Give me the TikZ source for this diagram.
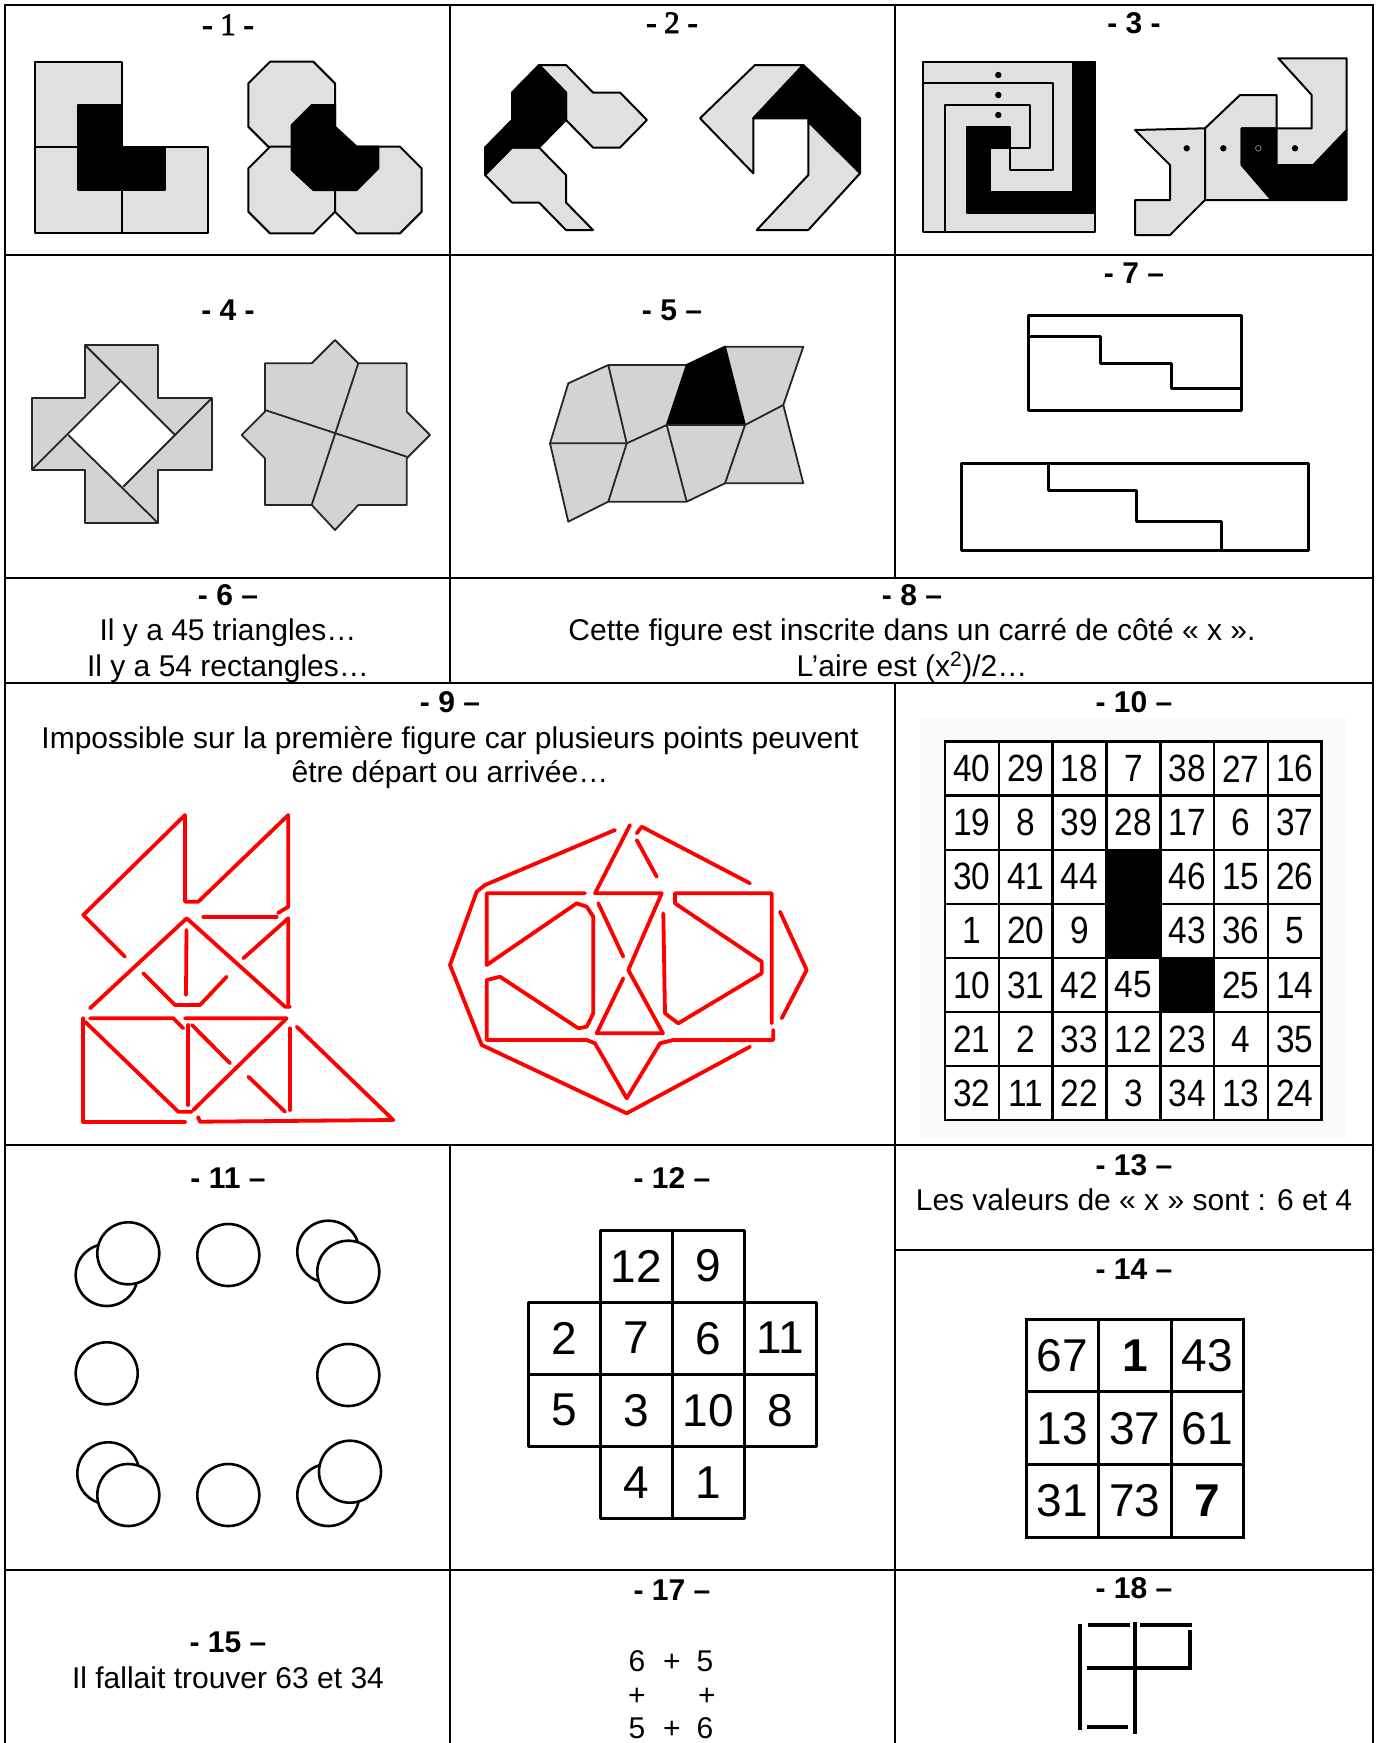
\documentclass[tikz,border=0pt]{standalone}
\usepackage{fontspec}
\setmainfont{Liberation Sans}
\newfontfamily\timesb{Liberation Serif}[FakeBold=2.5]
\definecolor{lg}{HTML}{E0E0E0}
\definecolor{mg}{HTML}{D3D3D3}
\definecolor{rd}{HTML}{FF0000}
\tikzset{
  tbl/.style={line width=2.6pt, line cap=rect},
  ttl/.style={font=\fontsize{30}{34}\selectfont\bfseries, anchor=base, inner sep=0pt},
  ttls/.style={font=\timesb\fontsize{31}{34}\selectfont, anchor=base, inner sep=0pt},
  body/.style={font=\fontsize{30}{34}\selectfont, anchor=base, inner sep=0pt},
  piece/.style={draw=black, line width=2pt, fill=lg, line join=round},
  piecem/.style={draw=black!85, line width=1.8pt, fill=mg, line join=round},
  blk/.style={draw=black, line width=2pt, fill=black, line join=round},
  pl/.style={draw=black, line width=2pt, line join=round},
  plm/.style={draw=black!85, line width=1.8pt, line join=round},
  rl/.style={draw=rd, line width=3.8pt, line join=round, line cap=round},
  bl/.style={draw=black, line width=3pt, line join=round},
  n10/.style={font=\fontsize{38}{38}\selectfont, inner sep=0pt, anchor=center},
  n12/.style={font=\fontsize{46}{46}\selectfont, inner sep=0pt, anchor=center},
  circ/.style={draw=black, line width=2.6pt, fill=white},
}
\begin{document}
\begin{tikzpicture}[x=1pt,y=-1pt]
\useasboundingbox (0,0) rectangle (1377,1743);
\fill[white] (0,0) rectangle (1377,1743);

% ---------------- Figure 1
\draw[piece] (35,61.7) -- (121.7,61.7) -- (121.7,146.7) -- (208.3,146.7) -- (208.3,233.3) -- (35,233.3) -- cycle;
\draw[pl] (35,146.7) -- (121.7,146.7) -- (121.7,233.3);
\draw[blk] (78.3,105) -- (121.7,105) -- (121.7,146.7) -- (165,146.7) -- (165,190) -- (78.3,190) -- cycle;
\foreach \a/\b in {248.3/61.7, 248.3/146.7, 335/146.7}{
  \draw[piece,shift={(\a,\b)}] (21.7,0) -- (65,0) -- (86.7,21.7) -- (86.7,65) -- (65,86.7) -- (21.7,86.7) -- (0,65) -- (0,21.7) -- cycle;
}
\draw[blk] (291.7,125) -- (311.7,105) -- (335,105) -- (335,126.7) -- (356.7,146.7) -- (378.3,146.7) -- (378.3,168.3) -- (356.7,190) -- (313.3,190) -- (291.7,170) -- cycle;

% ---------------- Figure 2
\begin{scope}[shift={(485,65)}, x=27pt, y=-27.5pt]
\draw[piece] (2,0) -- (3,0) -- (4,1) -- (5,1) -- (6,2) -- (5,3) -- (4,3) -- (3,2) -- (3,1) -- cycle;
\draw[piece] (1,3) -- (2,3) -- (3,4) -- (3,5) -- (4,6) -- (3,6) -- (2,5) -- (1,5) -- (0,4) -- cycle;
\draw[blk] (2,0) -- (3,1) -- (3,2) -- (2,3) -- (1,3) -- (0,4) -- (0,3) -- (1,2) -- (1,1) -- cycle;
\end{scope}
\draw[piece] (700,118.3) -- (755,65) -- (803.3,65) -- (753.3,118.3) -- (753.3,173.3) -- cycle;
\draw[blk] (753.3,118.3) -- (803.3,65) -- (860,118.3) -- (860,173.3) -- (808.3,121.7) -- (808.3,118.3) -- cycle;
\draw[piece] (808.3,121.7) -- (860,173.3) -- (808.3,230) -- (756.7,230) -- (808.3,175) -- cycle;

% ---------------- Figure 3
\draw[piece] (923.3,61.7) rectangle (1095,231.7);
\draw[blk] (966.7,126.7) -- (1010,126.7) -- (1010,148.3) -- (990,148.3) -- (990,191.7) -- (1073.3,191.7) -- (1073.3,61.7) -- (1095,61.7) -- (1095,213.3) -- (966.7,213.3) -- cycle;
\draw[pl] (923.3,83.3) -- (1053.3,83.3) -- (1053.3,170) -- (1010,170) -- (1010,148.3);
\draw[pl] (945,231.7) -- (945,105) -- (1030,105) -- (1030,148.3) -- (1010,148.3);
\foreach \yy in {75,95,115} \fill (998.3,\yy) circle[radius=3.2];
\draw[piece] (1135,130) -- (1205,128.3) -- (1205,200) -- (1170,235) -- (1135,235) -- (1135,200) -- (1170,200) -- (1170,165) -- cycle;
\draw[piece] (1205,128.3) -- (1240,95) -- (1276.7,95) -- (1276.7,128.3) -- (1241.7,128.3) -- (1241.7,165) -- (1271.7,200) -- (1205,200) -- cycle;
\draw[blk] (1241.7,128.3) -- (1276.7,128.3) -- (1276.7,165) -- (1313.3,165) -- (1346.7,130) -- (1346.7,200) -- (1271.7,200) -- (1241.7,165) -- cycle;
\draw[piece] (1278.3,58.3) -- (1346.7,58.3) -- (1346.7,130) -- (1313.3,165) -- (1276.7,165) -- (1276.7,128.3) -- (1311.7,128.3) -- (1311.7,95) -- cycle;
\foreach \xx in {1186.7,1223.3,1295} \fill (\xx,148.3) circle[radius=3.2];
\draw[gray, line width=0.8pt] (1258.3,148.3) circle[radius=2.8];

% ---------------- Figure 4
\draw[piecem] (85,345) -- (158.3,345) -- (158.3,398.3) -- (211.7,398.3) -- (211.7,470) -- (158.3,470) -- (158.3,523.3) -- (85,523.3) -- (85,470) -- (31.7,470) -- (31.7,398.3) -- (85,398.3) -- cycle;
\fill[white] (120,381.7) -- (175,435) -- (123.3,486.7) -- (68.3,435) -- cycle;
\draw[plm] (85,345) -- (175,435);
\draw[plm] (211.7,398.3) -- (123.3,486.7);
\draw[plm] (158.3,523.3) -- (68.3,435);
\draw[plm] (31.7,470) -- (120,381.7);
\draw[piecem] (335,340) -- (358.3,363.3) -- (406.7,363.3) -- (406.7,411.7) -- (430,435) -- (406.7,458.3) -- (406.7,505) -- (358.3,505) -- (335,530) -- (311.7,505) -- (265,505) -- (265,458.3) -- (241.7,435) -- (265,411.7) -- (265,363.3) -- (311.7,363.3) -- cycle;
\draw[plm] (358.3,363.3) -- (311.7,505);
\draw[plm] (265,410) -- (406.7,456.7);

% ---------------- Figure 5
\draw[piecem] (550,443.3) -- (568.3,383.3) -- (608.3,365) -- (686.7,365) -- (725,346.7) -- (803.3,346.7) -- (783.3,405) -- (803.3,483.3) -- (725,483.3) -- (686.7,501.7) -- (608.3,501.7) -- (568.3,521.7) -- cycle;
\draw[blk, line width=1.8pt] (686.7,365) -- (725,346.7) -- (745,425) -- (666.7,425) -- cycle;
\draw[plm] (550,443.3) -- (626.7,443.3) -- (666.7,425) -- (745,425) -- (783.3,405);
\draw[plm] (608.3,365) -- (626.7,443.3) -- (608.3,501.7);
\draw[plm] (666.7,425) -- (686.7,501.7);
\draw[plm] (745,425) -- (725,483.3);

% ---------------- Figure 7
\draw[bl] (1028.3,315) rectangle (1241.7,410);
\draw[bl] (1028.3,336.7) -- (1100,336.7) -- (1100,363.3) -- (1171.7,363.3) -- (1171.7,388.3) -- (1241.7,388.3);
\draw[bl] (961.7,463.3) rectangle (1308.3,550);
\draw[bl] (1048.3,463.3) -- (1048.3,490) -- (1136.7,490) -- (1136.7,521.7) -- (1221.7,521.7) -- (1221.7,550);

% ---------------- Figure 9 (left)
\draw[rl] (125,956.7) -- (83.3,915) -- (185,815) -- (185,901.7) -- (198.3,901.7) -- (288.3,815) -- (288.3,906.7) -- (278,913);
\draw[rl] (203.3,916.7) -- (276.7,916.7);
\draw[rl] (90,1008.3) -- (186.7,918.3) -- (285,1006.7) -- (290,1006.7);
\draw[rl] (243.3,958.3) -- (288.3,918.3) -- (288.3,1006.7);
\draw[rl] (186.5,930) -- (186,995);
\draw[rl] (143.3,973.3) -- (175,1005) -- (200,1005) -- (226.7,976.7);
\draw[rl] (90,1018.3) -- (173.3,1018.3) -- (183.3,1028.3);
\draw[rl] (185,1018.3) -- (286.7,1018.3) -- (193.3,1110);
\draw[rl] (83.3,1018.3) -- (83.3,1121.7) -- (185,1121.7);
\draw[rl] (85,1021.7) -- (178.3,1111.7) -- (191.7,1111.7);
\draw[rl] (188.3,1025) -- (188.3,1105);
\draw[rl] (192,1025) -- (230,1063.3);
\draw[rl] (248.3,1076.7) -- (285,1111.7);
\draw[rl] (290,1028.3) -- (290,1110);
\draw[rl] (296.7,1026.7) -- (393.3,1120) -- (200,1121.7) -- (198,1117);

% ---------------- Figure 9 (right)
\draw[rl] (615,830) -- (485,885) -- (476.7,891.7) -- (450,965) -- (481.7,1045) -- (626.7,1113.3) -- (750,1046.7);
\draw[rl] (636.7,833.3) -- (641.7,826.7) -- (750,883.3);
\draw[rl] (780,911.7) -- (806.7,970) -- (781.7,1018.3);
\draw[rl] (630,825) -- (595,893.3) -- (661.7,893.3) -- (628.3,970) -- (663,1033.3) -- (596.7,1033.3) -- (623.3,978.3);
\draw[rl] (636.7,840) -- (656.7,876.7);
\draw[rl] (598.3,903.3) -- (623.3,956.7);
\draw[rl] (585,893.3) -- (486.7,893.3) -- (486.7,965) -- (576.7,903.3) -- (586.7,906.7) -- (593.3,916.7) -- (593.3,1013.3) -- (586.7,1026.7) -- (578.3,1028.3) -- (500,976.7) -- (486.7,980) -- (486.7,1040) -- (586.7,1040) -- (595,1043.3) -- (626.7,1098.3) -- (660,1043.3) -- (673.3,1040) -- (773.3,1040) -- (773.3,1030);
\draw[rl] (771.7,1023.3) -- (771.7,893.3) -- (675,893.3) -- (675,903.3) -- (680,906.7) -- (761.7,961.7) -- (761.7,973.3) -- (678.3,1023.3) -- (665,1013.3) -- (663.3,913.3);

% ---------------- Figure 10
\fill[black!2] (920,718) rectangle (1346,1138);
\begin{scope}[shift={(945,741.7)}, x=53.8pt, y=-54.05pt]
\fill[white] (0,0) rectangle (7,7);
\fill[black] (3,2) rectangle (4,4);
\fill[black] (4,4) rectangle (5,5);
\foreach \i in {0,...,7}{
  \draw[line width=2.6pt, line cap=rect] (\i,0) -- (\i,7);
  \draw[line width=2.6pt, line cap=rect] (0,\i) -- (7,\i);
}
\foreach \c/\v in {0/40,1/29,2/18,3/7,4/38,5/27,6/16} \node[n10] (a0-\c) at (\c+0.5,0.5) {\scalebox{0.88}[1]{\v}};
\foreach \c/\v in {0/19,1/8,2/39,3/28,4/17,5/6,6/37} \node[n10] (a1-\c) at (\c+0.5,1.5) {\scalebox{0.88}[1]{\v}};
\foreach \c/\v in {0/30,1/41,2/44,4/46,5/15,6/26} \node[n10] (a2-\c) at (\c+0.5,2.5) {\scalebox{0.88}[1]{\v}};
\foreach \c/\v in {0/1,1/20,2/9,4/43,5/36,6/5} \node[n10] (a3-\c) at (\c+0.5,3.5) {\scalebox{0.88}[1]{\v}};
\foreach \c/\v in {0/10,1/31,2/42,3/45,5/25,6/14} \node[n10] (a4-\c) at (\c+0.5,4.5) {\scalebox{0.88}[1]{\v}};
\foreach \c/\v in {0/21,1/2,2/33,3/12,4/23,5/4,6/35} \node[n10] (a5-\c) at (\c+0.5,5.5) {\scalebox{0.88}[1]{\v}};
\foreach \c/\v in {0/32,1/11,2/22,3/3,4/34,5/13,6/24} \node[n10] (a6-\c) at (\c+0.5,6.5) {\scalebox{0.88}[1]{\v}};
\end{scope}

% ---------------- Figure 11
\draw[circ] (106.7,1275) circle[radius=31];
\draw[circ] (128.3,1253.3) circle[radius=31];
\draw[circ] (228.3,1255) circle[radius=31];
\draw[circ] (328.3,1251.7) circle[radius=31];
\draw[circ] (348.3,1271.7) circle[radius=31];
\draw[circ] (106.7,1373.3) circle[radius=31];
\draw[circ] (348.3,1375) circle[radius=31];
\draw[circ] (108.3,1473.3) circle[radius=31];
\draw[circ] (128.3,1495) circle[radius=31];
\draw[circ] (228.3,1495) circle[radius=31];
\draw[circ] (328.3,1495) circle[radius=31];
\draw[circ] (350,1471.7) circle[radius=31];

% ---------------- Figure 12
\begin{scope}[shift={(528.3,1230)}, x=72.1pt, y=-72.1pt]
\foreach \c/\r in {1/0,2/0,0/1,1/1,2/1,3/1,0/2,1/2,2/2,3/2,1/3,2/3}
  \draw[line width=3pt, line join=round] (\c,\r) rectangle (\c+1,\r+1);
\foreach \c/\r/\v in {1/0/12,2/0/9,0/1/2,1/1/7,2/1/6,3/1/11,0/2/5,1/2/3,2/2/10,3/2/8,1/3/4,2/3/1}
  \node[n12] (b-\c-\r) at (\c+0.5,\r+0.5) {\v};
\end{scope}

% ---------------- Figure 14
\begin{scope}[shift={(1026,1319.3)}, x=72.57pt, y=-72.57pt]
\foreach \i in {0,...,3}{
  \draw[line width=3pt, line cap=rect] (\i,0) -- (\i,3);
  \draw[line width=3pt, line cap=rect] (0,\i) -- (3,\i);
}
\node[n12] (c00) at (0.5,0.5) {67};
\node[n12, font=\fontsize{46}{46}\selectfont\bfseries] (c10) at (1.5,0.5) {1};
\node[n12] (c20) at (2.5,0.5) {43};
\node[n12] (c01) at (0.5,1.5) {13};
\node[n12] (c11) at (1.5,1.5) {37};
\node[n12] (c21) at (2.5,1.5) {61};
\node[n12] (c02) at (0.5,2.5) {31};
\node[n12] (c12) at (1.5,2.5) {73};
\node[n12, font=\fontsize{46}{46}\selectfont\bfseries] (c22) at (2.5,2.5) {7};
\end{scope}

% ---------------- Figure 18
\draw[line width=4pt] (1080,1624) -- (1080,1730);
\draw[line width=4pt] (1135,1622) -- (1135,1734);
\draw[line width=4pt] (1190,1630) -- (1190,1667);
\draw[line width=4pt] (1088,1625) -- (1130,1625);
\draw[line width=4pt] (1140,1625) -- (1192,1625);
\draw[line width=4pt] (1087,1668) -- (1192,1668);
\draw[line width=4pt] (1087,1727) -- (1128,1727);

% ---------------- Titles and texts
\node[ttls] (t1) at (228,35) {- 1 -};
\node[ttls] (t2) at (672,33) {- 2 -};
\node[ttl] (t3) at (1134,33) {- 3 -};
\node[ttl] (t4) at (228,320) {- 4 -};
\node[ttl] (t5) at (672,320) {- 5 –};
\node[ttl] (t7) at (1134,283) {- 7 –};
\node[ttl] (t6) at (228,605) {- 6 –};
\node[ttl] (t8) at (912,605) {- 8 –};
\node[body] (b6a) at (228,640) {Il y a 45 triangles…};
\node[body] (b6b) at (228,676) {Il y a 54 rectangles…};
\node[body] (b8a) at (912,640) {Cette figure est inscrite dans un carré de côté «~x~».};
\node[body] (b8b) at (912,676) {L’aire est (x\textsuperscript{2})/2…};
\node[ttl] (t9) at (450,712) {- 9 –};
\node[body] (b9a) at (450,748) {Impossible sur la première figure car plusieurs points peuvent};
\node[body] (b9b) at (450,782) {être départ ou arrivée…};
\node[ttl] (t10) at (1134,712) {- 10 –};
\node[ttl] (t11) at (228,1188) {- 11 –};
\node[ttl] (t12) at (672,1188) {- 12 –};
\node[ttl] (t13) at (1134,1175) {- 13 –};
\node[body] (b13) at (1134,1210) {Les valeurs de «~x~» sont : 6 et 4};
\node[ttl] (t14) at (1134,1279) {- 14 –};
\node[ttl] (t15) at (228,1652) {- 15 –};
\node[body] (b15) at (228,1688) {Il fallait trouver 63 et 34};
\node[ttl] (t17) at (672,1600) {- 17 –};
\node[ttl] (t18) at (1134,1598) {- 18 –};
\node[body] (s1a) at (637,1671) {6};
\node[body] (s1b) at (672,1671) {+};
\node[body] (s1c) at (705,1671) {5};
\node[body] (s2a) at (637,1705) {+};
\node[body] (s2c) at (707,1705) {+};
\node[body] (s3a) at (637,1738) {5};
\node[body] (s3b) at (672,1738) {+};
\node[body] (s3c) at (705,1738) {6};

% ---------------- Table lines
\draw[tbl] (5,5) -- (1373,5);
\draw[tbl] (5,255) -- (1373,255);
\draw[tbl] (5,578) -- (1373,578);
\draw[tbl] (5,683) -- (1373,683);
\draw[tbl] (5,1145) -- (1373,1145);
\draw[tbl] (895,1250) -- (1373,1250);
\draw[tbl] (5,1570) -- (1373,1570);
\draw[tbl] (5,5) -- (5,1745);
\draw[tbl] (1373,5) -- (1373,1745);
\draw[tbl] (450,5) -- (450,683);
\draw[tbl] (450,1145) -- (450,1745);
\draw[tbl] (895,5) -- (895,578);
\draw[tbl] (895,683) -- (895,1745);
\end{tikzpicture}
\end{document}
